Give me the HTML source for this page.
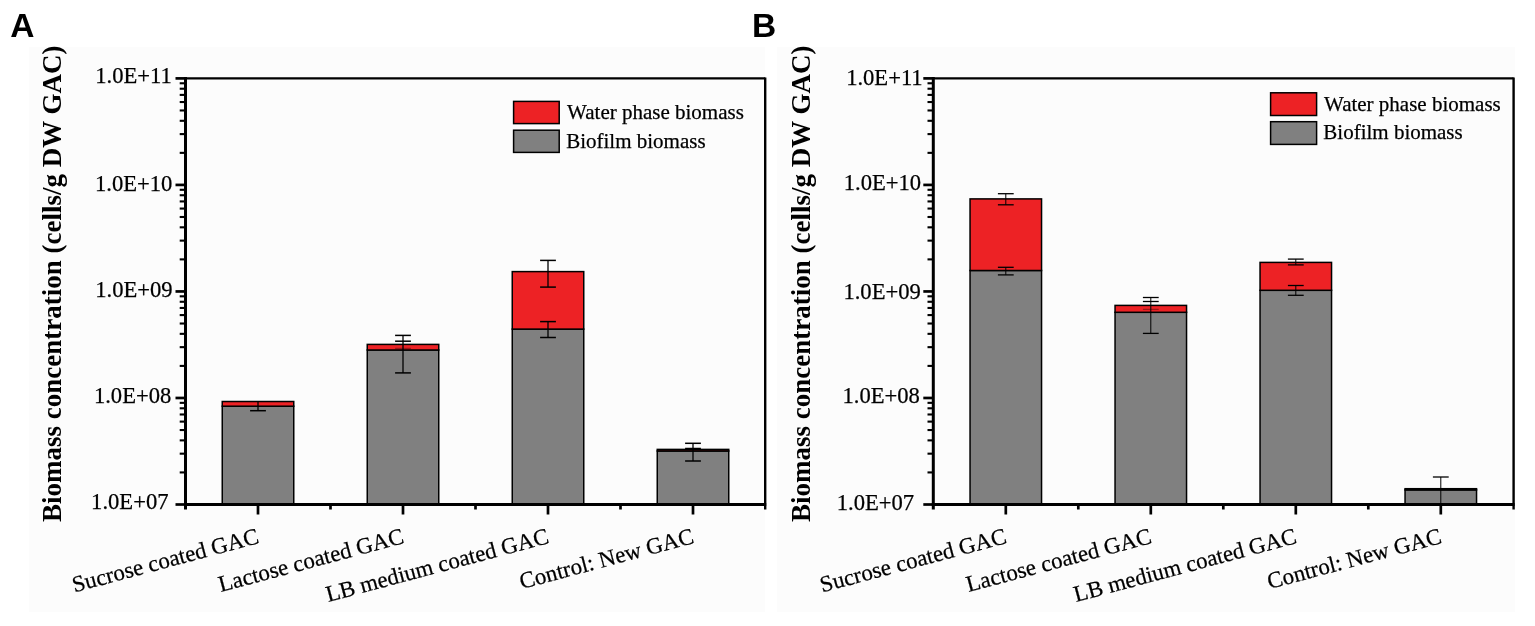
<!DOCTYPE html>
<html><head><meta charset="utf-8"><title>Biomass concentration</title>
<style>html,body{margin:0;padding:0;background:#fff;}text.s{stroke:#000;stroke-width:0.25px;}body{width:1535px;height:626px;overflow:hidden;}svg{display:block;}</style>
</head><body>
<svg width="1535" height="626" viewBox="0 0 1535 626">
<rect width="1535" height="626" fill="#fff"/>
<rect x="29" y="47" width="736" height="565" fill="#fcfcfc"/>
<rect x="222.25" y="406.20" width="71.5" height="98.30" fill="#808080" stroke="#000" stroke-width="1.5"/>
<rect x="222.25" y="401.50" width="71.5" height="4.70" fill="#ed2225" stroke="#000" stroke-width="1.5"/>
<line x1="258.00" y1="401.5" x2="258.00" y2="410.7" stroke="#000" stroke-width="1.3"/>
<line x1="250.10" y1="410.7" x2="265.90" y2="410.7" stroke="#000" stroke-width="1.5"/>
<rect x="367.25" y="350.00" width="71.5" height="154.50" fill="#808080" stroke="#000" stroke-width="1.5"/>
<rect x="367.25" y="344.40" width="71.5" height="5.60" fill="#ed2225" stroke="#000" stroke-width="1.5"/>
<line x1="403.00" y1="335.4" x2="403.00" y2="372.9" stroke="#000" stroke-width="1.3"/>
<line x1="395.10" y1="335.4" x2="410.90" y2="335.4" stroke="#000" stroke-width="1.5"/>
<line x1="395.10" y1="341.2" x2="410.90" y2="341.2" stroke="#000" stroke-width="1.5"/>
<line x1="395.10" y1="348.5" x2="410.90" y2="348.5" stroke="#000" stroke-width="1.5" stroke-opacity="0.35"/>
<line x1="395.10" y1="372.9" x2="410.90" y2="372.9" stroke="#000" stroke-width="1.5"/>
<rect x="512.25" y="329.10" width="71.5" height="175.40" fill="#808080" stroke="#000" stroke-width="1.5"/>
<rect x="512.25" y="271.60" width="71.5" height="57.50" fill="#ed2225" stroke="#000" stroke-width="1.5"/>
<line x1="548.00" y1="260.4" x2="548.00" y2="287.1" stroke="#000" stroke-width="1.3"/>
<line x1="540.10" y1="260.4" x2="555.90" y2="260.4" stroke="#000" stroke-width="1.5"/>
<line x1="540.10" y1="287.1" x2="555.90" y2="287.1" stroke="#000" stroke-width="1.5"/>
<line x1="548.00" y1="321.6" x2="548.00" y2="337.5" stroke="#000" stroke-width="1.3"/>
<line x1="540.10" y1="321.6" x2="555.90" y2="321.6" stroke="#000" stroke-width="1.5"/>
<line x1="540.10" y1="337.5" x2="555.90" y2="337.5" stroke="#000" stroke-width="1.5"/>
<rect x="657.25" y="451.00" width="71.5" height="53.50" fill="#808080" stroke="#000" stroke-width="1.5"/>
<rect x="657.25" y="449.40" width="71.5" height="1.60" fill="#ed2225" stroke="#000" stroke-width="1.5"/>
<line x1="693.00" y1="443.3" x2="693.00" y2="461" stroke="#000" stroke-width="1.3"/>
<line x1="685.10" y1="443.3" x2="700.90" y2="443.3" stroke="#000" stroke-width="1.5"/>
<line x1="685.10" y1="448.5" x2="700.90" y2="448.5" stroke="#000" stroke-width="1.5"/>
<line x1="685.10" y1="461" x2="700.90" y2="461" stroke="#000" stroke-width="1.5"/>
<line x1="185.5" y1="78.4" x2="765.2" y2="78.4" stroke="#000" stroke-width="2.2"/>
<line x1="765.2" y1="77.4" x2="765.2" y2="509.5" stroke="#000" stroke-width="2.4"/>
<line x1="185.5" y1="76.9" x2="185.5" y2="509.5" stroke="#000" stroke-width="3"/>
<line x1="184.0" y1="504.5" x2="766.2" y2="504.5" stroke="#000" stroke-width="3"/>
<line x1="175.5" y1="504.50" x2="185.5" y2="504.50" stroke="#000" stroke-width="2.7"/>
<text x="129.80" y="509.20" class="s" text-anchor="middle" font-family='"Liberation Serif", "Times New Roman", serif' font-size="22.6">1.0E+07</text>
<line x1="179.7" y1="472.43" x2="185.5" y2="472.43" stroke="#000" stroke-width="2.1"/>
<line x1="179.7" y1="453.67" x2="185.5" y2="453.67" stroke="#000" stroke-width="2.1"/>
<line x1="179.7" y1="440.37" x2="185.5" y2="440.37" stroke="#000" stroke-width="2.1"/>
<line x1="179.7" y1="430.04" x2="185.5" y2="430.04" stroke="#000" stroke-width="2.1"/>
<line x1="179.7" y1="421.61" x2="185.5" y2="421.61" stroke="#000" stroke-width="2.1"/>
<line x1="179.7" y1="414.48" x2="185.5" y2="414.48" stroke="#000" stroke-width="2.1"/>
<line x1="179.7" y1="408.30" x2="185.5" y2="408.30" stroke="#000" stroke-width="2.1"/>
<line x1="179.7" y1="402.85" x2="185.5" y2="402.85" stroke="#000" stroke-width="2.1"/>
<line x1="175.5" y1="397.98" x2="185.5" y2="397.98" stroke="#000" stroke-width="2.7"/>
<text x="132.60" y="402.50" class="s" text-anchor="middle" font-family='"Liberation Serif", "Times New Roman", serif' font-size="22.6">1.0E+08</text>
<line x1="179.7" y1="365.91" x2="185.5" y2="365.91" stroke="#000" stroke-width="2.1"/>
<line x1="179.7" y1="347.15" x2="185.5" y2="347.15" stroke="#000" stroke-width="2.1"/>
<line x1="179.7" y1="333.84" x2="185.5" y2="333.84" stroke="#000" stroke-width="2.1"/>
<line x1="179.7" y1="323.52" x2="185.5" y2="323.52" stroke="#000" stroke-width="2.1"/>
<line x1="179.7" y1="315.08" x2="185.5" y2="315.08" stroke="#000" stroke-width="2.1"/>
<line x1="179.7" y1="307.95" x2="185.5" y2="307.95" stroke="#000" stroke-width="2.1"/>
<line x1="179.7" y1="301.77" x2="185.5" y2="301.77" stroke="#000" stroke-width="2.1"/>
<line x1="179.7" y1="296.32" x2="185.5" y2="296.32" stroke="#000" stroke-width="2.1"/>
<line x1="175.5" y1="291.45" x2="185.5" y2="291.45" stroke="#000" stroke-width="2.7"/>
<text x="133.90" y="297.10" class="s" text-anchor="middle" font-family='"Liberation Serif", "Times New Roman", serif' font-size="22.6">1.0E+09</text>
<line x1="179.7" y1="259.38" x2="185.5" y2="259.38" stroke="#000" stroke-width="2.1"/>
<line x1="179.7" y1="240.62" x2="185.5" y2="240.62" stroke="#000" stroke-width="2.1"/>
<line x1="179.7" y1="227.32" x2="185.5" y2="227.32" stroke="#000" stroke-width="2.1"/>
<line x1="179.7" y1="216.99" x2="185.5" y2="216.99" stroke="#000" stroke-width="2.1"/>
<line x1="179.7" y1="208.56" x2="185.5" y2="208.56" stroke="#000" stroke-width="2.1"/>
<line x1="179.7" y1="201.43" x2="185.5" y2="201.43" stroke="#000" stroke-width="2.1"/>
<line x1="179.7" y1="195.25" x2="185.5" y2="195.25" stroke="#000" stroke-width="2.1"/>
<line x1="179.7" y1="189.80" x2="185.5" y2="189.80" stroke="#000" stroke-width="2.1"/>
<line x1="175.5" y1="184.92" x2="185.5" y2="184.92" stroke="#000" stroke-width="2.7"/>
<text x="133.70" y="190.80" class="s" text-anchor="middle" font-family='"Liberation Serif", "Times New Roman", serif' font-size="22.6">1.0E+10</text>
<line x1="179.7" y1="152.86" x2="185.5" y2="152.86" stroke="#000" stroke-width="2.1"/>
<line x1="179.7" y1="134.10" x2="185.5" y2="134.10" stroke="#000" stroke-width="2.1"/>
<line x1="179.7" y1="120.79" x2="185.5" y2="120.79" stroke="#000" stroke-width="2.1"/>
<line x1="179.7" y1="110.47" x2="185.5" y2="110.47" stroke="#000" stroke-width="2.1"/>
<line x1="179.7" y1="102.03" x2="185.5" y2="102.03" stroke="#000" stroke-width="2.1"/>
<line x1="179.7" y1="94.90" x2="185.5" y2="94.90" stroke="#000" stroke-width="2.1"/>
<line x1="179.7" y1="88.72" x2="185.5" y2="88.72" stroke="#000" stroke-width="2.1"/>
<line x1="179.7" y1="83.27" x2="185.5" y2="83.27" stroke="#000" stroke-width="2.1"/>
<line x1="175.5" y1="78.40" x2="185.5" y2="78.40" stroke="#000" stroke-width="2.7"/>
<text x="133.60" y="83.10" class="s" text-anchor="middle" font-family='"Liberation Serif", "Times New Roman", serif' font-size="22.6">1.0E+11</text>
<line x1="258.00" y1="504.5" x2="258.00" y2="514.5" stroke="#000" stroke-width="2.7"/>
<line x1="403.00" y1="504.5" x2="403.00" y2="514.5" stroke="#000" stroke-width="2.7"/>
<line x1="330.50" y1="504.5" x2="330.50" y2="509.5" stroke="#000" stroke-width="2.7"/>
<line x1="548.00" y1="504.5" x2="548.00" y2="514.5" stroke="#000" stroke-width="2.7"/>
<line x1="475.50" y1="504.5" x2="475.50" y2="509.5" stroke="#000" stroke-width="2.7"/>
<line x1="693.00" y1="504.5" x2="693.00" y2="514.5" stroke="#000" stroke-width="2.7"/>
<line x1="620.50" y1="504.5" x2="620.50" y2="509.5" stroke="#000" stroke-width="2.7"/>
<text transform="translate(260.00,542.7) rotate(-15)" class="s" text-anchor="end" font-family='"Liberation Serif", "Times New Roman", serif' font-size="22.9">Sucrose coated GAC</text>
<text transform="translate(405.00,542.7) rotate(-15)" class="s" text-anchor="end" font-family='"Liberation Serif", "Times New Roman", serif' font-size="22.9">Lactose coated GAC</text>
<text transform="translate(550.00,542.7) rotate(-15)" class="s" text-anchor="end" font-family='"Liberation Serif", "Times New Roman", serif' font-size="22.9">LB medium coated GAC</text>
<text transform="translate(695.00,542.7) rotate(-15)" class="s" text-anchor="end" font-family='"Liberation Serif", "Times New Roman", serif' font-size="22.9">Control: New GAC</text>
<text transform="translate(61.2,522) rotate(-90)" font-family='"Liberation Serif", "Times New Roman", serif' font-weight="bold" font-size="27">Biomass concentration (cells/g DW GAC)</text>
<rect x="513.6" y="101.4" width="45.6" height="22.2" fill="#ed2225" stroke="#000" stroke-width="1.5"/>
<rect x="513.6" y="130.2" width="45.6" height="22.2" fill="#808080" stroke="#000" stroke-width="1.5"/>
<text class="s" x="567.1" y="119.3" font-family='"Liberation Serif", "Times New Roman", serif' font-size="21">Water phase biomass</text>
<text class="s" x="566.2" y="147.6" font-family='"Liberation Serif", "Times New Roman", serif' font-size="21">Biofilm biomass</text>
<text x="10.2" y="37.2" font-family='"Liberation Sans", Arial, sans-serif' font-weight="bold" font-size="33.5">A</text>
<rect x="777" y="47" width="738" height="565" fill="#fcfcfc"/>
<rect x="970.05" y="270.50" width="71.5" height="234.00" fill="#808080" stroke="#000" stroke-width="1.5"/>
<rect x="970.05" y="198.90" width="71.5" height="71.60" fill="#ed2225" stroke="#000" stroke-width="1.5"/>
<line x1="1005.80" y1="193.7" x2="1005.80" y2="204.8" stroke="#000" stroke-width="1.0"/>
<line x1="997.90" y1="193.7" x2="1013.70" y2="193.7" stroke="#000" stroke-width="1.3"/>
<line x1="997.90" y1="204.8" x2="1013.70" y2="204.8" stroke="#000" stroke-width="1.3"/>
<line x1="1005.80" y1="267.3" x2="1005.80" y2="274.9" stroke="#000" stroke-width="1.0"/>
<line x1="997.90" y1="267.3" x2="1013.70" y2="267.3" stroke="#000" stroke-width="1.3"/>
<line x1="997.90" y1="274.9" x2="1013.70" y2="274.9" stroke="#000" stroke-width="1.3"/>
<rect x="1115.05" y="312.30" width="71.5" height="192.20" fill="#808080" stroke="#000" stroke-width="1.5"/>
<rect x="1115.05" y="305.40" width="71.5" height="6.90" fill="#ed2225" stroke="#000" stroke-width="1.5"/>
<line x1="1150.80" y1="297.5" x2="1150.80" y2="333.4" stroke="#000" stroke-width="1.0"/>
<line x1="1142.90" y1="297.5" x2="1158.70" y2="297.5" stroke="#000" stroke-width="1.3"/>
<line x1="1142.90" y1="301.5" x2="1158.70" y2="301.5" stroke="#000" stroke-width="1.3"/>
<line x1="1142.90" y1="309.4" x2="1158.70" y2="309.4" stroke="#000" stroke-width="1.3" stroke-opacity="0.35"/>
<line x1="1142.90" y1="333.4" x2="1158.70" y2="333.4" stroke="#000" stroke-width="1.3"/>
<rect x="1260.05" y="290.30" width="71.5" height="214.20" fill="#808080" stroke="#000" stroke-width="1.5"/>
<rect x="1260.05" y="262.40" width="71.5" height="27.90" fill="#ed2225" stroke="#000" stroke-width="1.5"/>
<line x1="1295.80" y1="259.1" x2="1295.80" y2="264.9" stroke="#000" stroke-width="1.0"/>
<line x1="1287.90" y1="259.1" x2="1303.70" y2="259.1" stroke="#000" stroke-width="1.3"/>
<line x1="1287.90" y1="264.9" x2="1303.70" y2="264.9" stroke="#000" stroke-width="1.3"/>
<line x1="1295.80" y1="285.5" x2="1295.80" y2="295.3" stroke="#000" stroke-width="1.0"/>
<line x1="1287.90" y1="285.5" x2="1303.70" y2="285.5" stroke="#000" stroke-width="1.3"/>
<line x1="1287.90" y1="295.3" x2="1303.70" y2="295.3" stroke="#000" stroke-width="1.3"/>
<rect x="1405.05" y="489.90" width="71.5" height="14.60" fill="#808080" stroke="#000" stroke-width="1.5"/>
<rect x="1405.05" y="488.70" width="71.5" height="1.20" fill="#ed2225" stroke="#000" stroke-width="1.5"/>
<line x1="1440.80" y1="477" x2="1440.80" y2="504.5" stroke="#000" stroke-width="1.0"/>
<line x1="1432.90" y1="477" x2="1448.70" y2="477" stroke="#000" stroke-width="1.3"/>
<line x1="933.3" y1="78.4" x2="1513.6" y2="78.4" stroke="#000" stroke-width="2.2"/>
<line x1="1513.6" y1="77.4" x2="1513.6" y2="509.5" stroke="#000" stroke-width="2.4"/>
<line x1="933.3" y1="76.9" x2="933.3" y2="509.5" stroke="#000" stroke-width="3"/>
<line x1="931.8" y1="504.5" x2="1514.6" y2="504.5" stroke="#000" stroke-width="3"/>
<line x1="923.3" y1="504.50" x2="933.3" y2="504.50" stroke="#000" stroke-width="2.7"/>
<text x="875.40" y="509.80" class="s" text-anchor="middle" font-family='"Liberation Serif", "Times New Roman", serif' font-size="22.6">1.0E+07</text>
<line x1="927.5" y1="472.43" x2="933.3" y2="472.43" stroke="#000" stroke-width="2.1"/>
<line x1="927.5" y1="453.67" x2="933.3" y2="453.67" stroke="#000" stroke-width="2.1"/>
<line x1="927.5" y1="440.37" x2="933.3" y2="440.37" stroke="#000" stroke-width="2.1"/>
<line x1="927.5" y1="430.04" x2="933.3" y2="430.04" stroke="#000" stroke-width="2.1"/>
<line x1="927.5" y1="421.61" x2="933.3" y2="421.61" stroke="#000" stroke-width="2.1"/>
<line x1="927.5" y1="414.48" x2="933.3" y2="414.48" stroke="#000" stroke-width="2.1"/>
<line x1="927.5" y1="408.30" x2="933.3" y2="408.30" stroke="#000" stroke-width="2.1"/>
<line x1="927.5" y1="402.85" x2="933.3" y2="402.85" stroke="#000" stroke-width="2.1"/>
<line x1="923.3" y1="397.98" x2="933.3" y2="397.98" stroke="#000" stroke-width="2.7"/>
<text x="881.20" y="402.80" class="s" text-anchor="middle" font-family='"Liberation Serif", "Times New Roman", serif' font-size="22.6">1.0E+08</text>
<line x1="927.5" y1="365.91" x2="933.3" y2="365.91" stroke="#000" stroke-width="2.1"/>
<line x1="927.5" y1="347.15" x2="933.3" y2="347.15" stroke="#000" stroke-width="2.1"/>
<line x1="927.5" y1="333.84" x2="933.3" y2="333.84" stroke="#000" stroke-width="2.1"/>
<line x1="927.5" y1="323.52" x2="933.3" y2="323.52" stroke="#000" stroke-width="2.1"/>
<line x1="927.5" y1="315.08" x2="933.3" y2="315.08" stroke="#000" stroke-width="2.1"/>
<line x1="927.5" y1="307.95" x2="933.3" y2="307.95" stroke="#000" stroke-width="2.1"/>
<line x1="927.5" y1="301.77" x2="933.3" y2="301.77" stroke="#000" stroke-width="2.1"/>
<line x1="927.5" y1="296.32" x2="933.3" y2="296.32" stroke="#000" stroke-width="2.1"/>
<line x1="923.3" y1="291.45" x2="933.3" y2="291.45" stroke="#000" stroke-width="2.7"/>
<text x="882.10" y="299.40" class="s" text-anchor="middle" font-family='"Liberation Serif", "Times New Roman", serif' font-size="22.6">1.0E+09</text>
<line x1="927.5" y1="259.38" x2="933.3" y2="259.38" stroke="#000" stroke-width="2.1"/>
<line x1="927.5" y1="240.62" x2="933.3" y2="240.62" stroke="#000" stroke-width="2.1"/>
<line x1="927.5" y1="227.32" x2="933.3" y2="227.32" stroke="#000" stroke-width="2.1"/>
<line x1="927.5" y1="216.99" x2="933.3" y2="216.99" stroke="#000" stroke-width="2.1"/>
<line x1="927.5" y1="208.56" x2="933.3" y2="208.56" stroke="#000" stroke-width="2.1"/>
<line x1="927.5" y1="201.43" x2="933.3" y2="201.43" stroke="#000" stroke-width="2.1"/>
<line x1="927.5" y1="195.25" x2="933.3" y2="195.25" stroke="#000" stroke-width="2.1"/>
<line x1="927.5" y1="189.80" x2="933.3" y2="189.80" stroke="#000" stroke-width="2.1"/>
<line x1="923.3" y1="184.92" x2="933.3" y2="184.92" stroke="#000" stroke-width="2.7"/>
<text x="882.40" y="190.10" class="s" text-anchor="middle" font-family='"Liberation Serif", "Times New Roman", serif' font-size="22.6">1.0E+10</text>
<line x1="927.5" y1="152.86" x2="933.3" y2="152.86" stroke="#000" stroke-width="2.1"/>
<line x1="927.5" y1="134.10" x2="933.3" y2="134.10" stroke="#000" stroke-width="2.1"/>
<line x1="927.5" y1="120.79" x2="933.3" y2="120.79" stroke="#000" stroke-width="2.1"/>
<line x1="927.5" y1="110.47" x2="933.3" y2="110.47" stroke="#000" stroke-width="2.1"/>
<line x1="927.5" y1="102.03" x2="933.3" y2="102.03" stroke="#000" stroke-width="2.1"/>
<line x1="927.5" y1="94.90" x2="933.3" y2="94.90" stroke="#000" stroke-width="2.1"/>
<line x1="927.5" y1="88.72" x2="933.3" y2="88.72" stroke="#000" stroke-width="2.1"/>
<line x1="927.5" y1="83.27" x2="933.3" y2="83.27" stroke="#000" stroke-width="2.1"/>
<line x1="923.3" y1="78.40" x2="933.3" y2="78.40" stroke="#000" stroke-width="2.7"/>
<text x="884.40" y="85.40" class="s" text-anchor="middle" font-family='"Liberation Serif", "Times New Roman", serif' font-size="22.6">1.0E+11</text>
<line x1="1005.80" y1="504.5" x2="1005.80" y2="514.5" stroke="#000" stroke-width="2.7"/>
<line x1="1150.80" y1="504.5" x2="1150.80" y2="514.5" stroke="#000" stroke-width="2.7"/>
<line x1="1078.30" y1="504.5" x2="1078.30" y2="509.5" stroke="#000" stroke-width="2.7"/>
<line x1="1295.80" y1="504.5" x2="1295.80" y2="514.5" stroke="#000" stroke-width="2.7"/>
<line x1="1223.30" y1="504.5" x2="1223.30" y2="509.5" stroke="#000" stroke-width="2.7"/>
<line x1="1440.80" y1="504.5" x2="1440.80" y2="514.5" stroke="#000" stroke-width="2.7"/>
<line x1="1368.30" y1="504.5" x2="1368.30" y2="509.5" stroke="#000" stroke-width="2.7"/>
<text transform="translate(1007.80,542.7) rotate(-15)" class="s" text-anchor="end" font-family='"Liberation Serif", "Times New Roman", serif' font-size="22.9">Sucrose coated GAC</text>
<text transform="translate(1152.80,542.7) rotate(-15)" class="s" text-anchor="end" font-family='"Liberation Serif", "Times New Roman", serif' font-size="22.9">Lactose coated GAC</text>
<text transform="translate(1297.80,542.7) rotate(-15)" class="s" text-anchor="end" font-family='"Liberation Serif", "Times New Roman", serif' font-size="22.9">LB medium coated GAC</text>
<text transform="translate(1442.80,542.7) rotate(-15)" class="s" text-anchor="end" font-family='"Liberation Serif", "Times New Roman", serif' font-size="22.9">Control: New GAC</text>
<text transform="translate(810.3,522) rotate(-90)" font-family='"Liberation Serif", "Times New Roman", serif' font-weight="bold" font-size="27">Biomass concentration (cells/g DW GAC)</text>
<rect x="1270.6" y="92.8" width="46" height="22.7" fill="#ed2225" stroke="#000" stroke-width="1.5"/>
<rect x="1270.6" y="121.7" width="46" height="22.7" fill="#808080" stroke="#000" stroke-width="1.5"/>
<text class="s" x="1324" y="111" font-family='"Liberation Serif", "Times New Roman", serif' font-size="21">Water phase biomass</text>
<text class="s" x="1323.3" y="138.7" font-family='"Liberation Serif", "Times New Roman", serif' font-size="21">Biofilm biomass</text>
<text x="752" y="37.2" font-family='"Liberation Sans", Arial, sans-serif' font-weight="bold" font-size="33.5">B</text>
</svg>
</body></html>
